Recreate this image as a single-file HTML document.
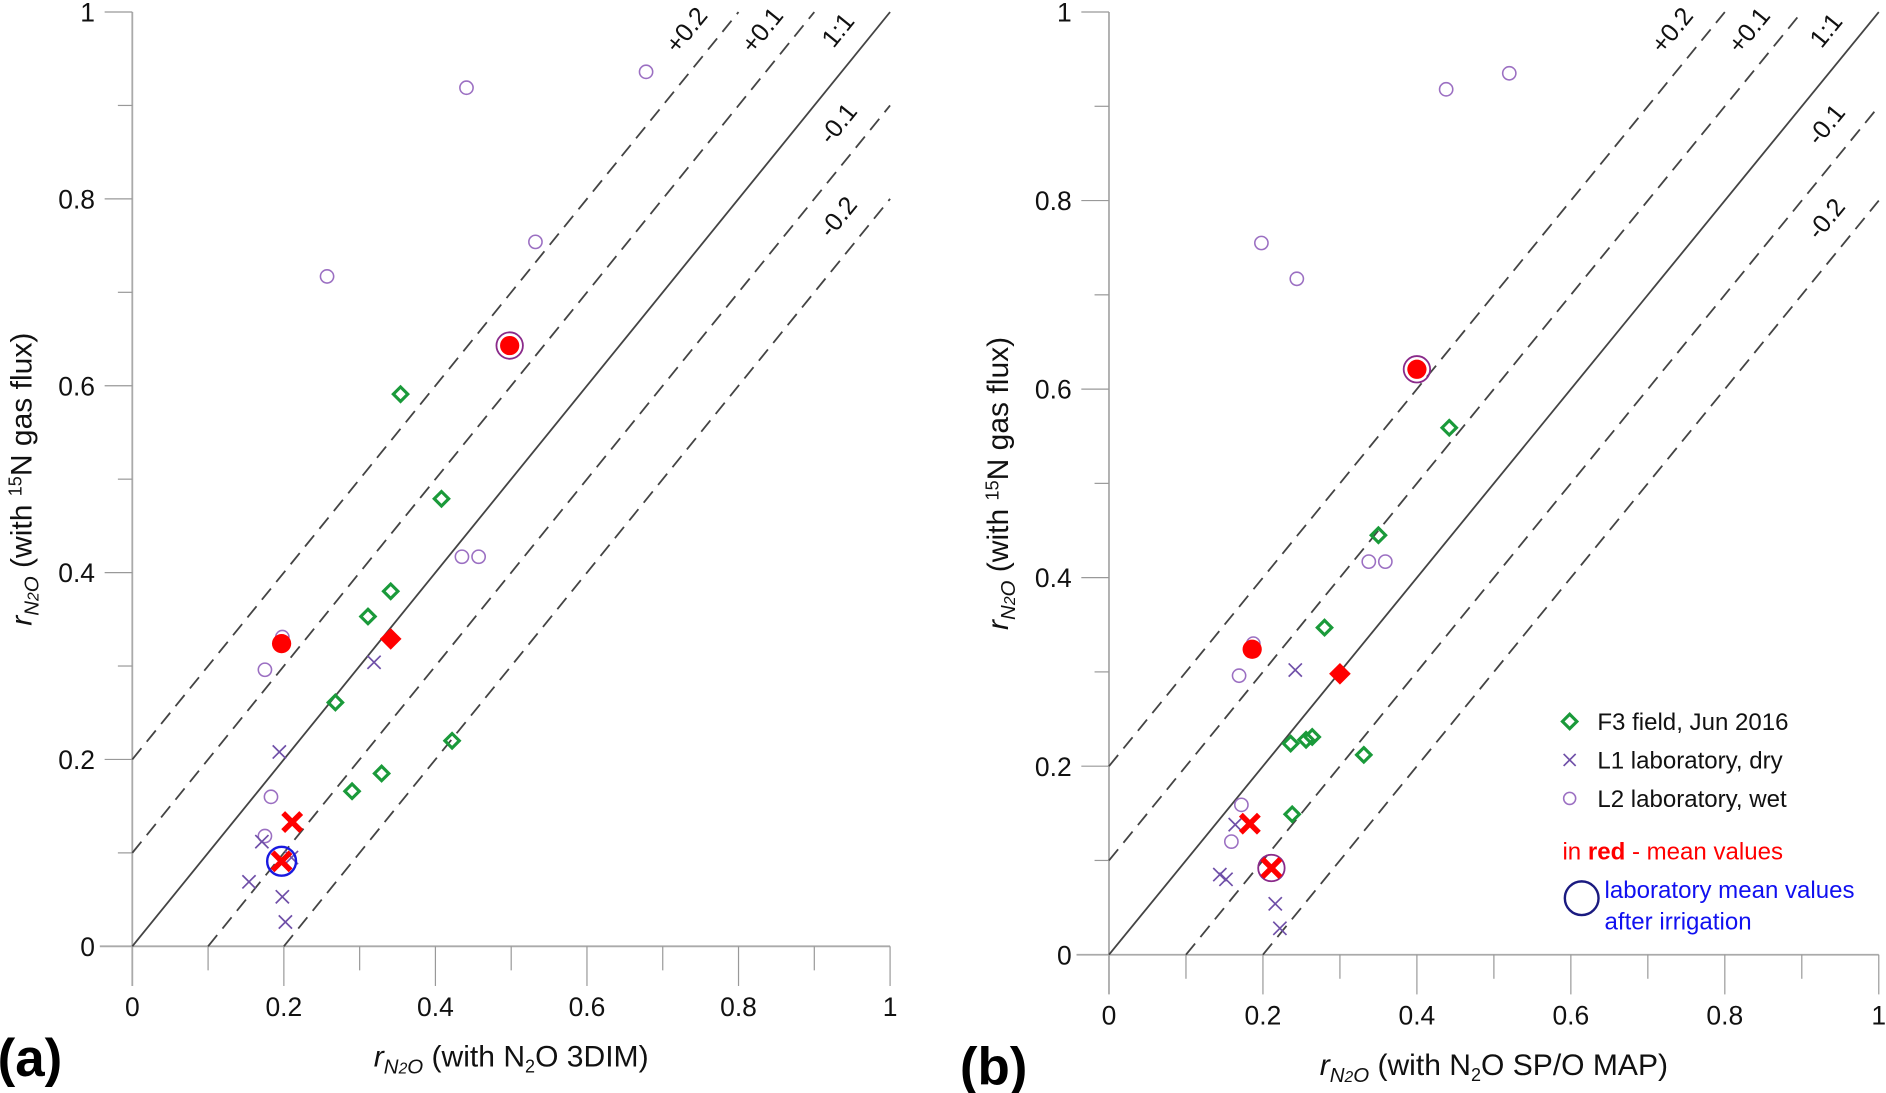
<!DOCTYPE html>
<html><head><meta charset="utf-8"><style>
html,body{margin:0;padding:0;background:#fff;width:1886px;height:1093px;overflow:hidden}
svg{display:block}
text{font-family:"Liberation Sans",sans-serif}
</style></head><body>
<svg id="chart" width="1886" height="1093" viewBox="0 0 1568 909" preserveAspectRatio="none" xmlns="http://www.w3.org/2000/svg">
<g id="layer"></g>
</svg>
<script>
const ticks = [0, 0.2, 0.4, 0.6, 0.8, 1];
const tickLabels = ["0", "0.2", "0.4", "0.6", "0.8", "1"];
const offsets = [0.2, 0.1, 0, -0.1, -0.2];
const offsetLabels = ["+0.2", "+0.1", "1:1", "-0.1", "-0.2"];
// Panel a
const aFieldX = [0.354,0.408,0.341,0.311,0.268,0.422,0.329,0.290];
const aFieldY = [0.591,0.479,0.380,0.353,0.261,0.220,0.185,0.166];
const aDryX = [0.319,0.194,0.171,0.154,0.198,0.202,0.210];
const aDryY = [0.304,0.208,0.112,0.069,0.053,0.026,0.095];
const aWetX = [0.441,0.678,0.532,0.257,0.500,0.435,0.457,0.198,0.175,0.183,0.175];
const aWetY = [0.919,0.936,0.754,0.717,0.644,0.417,0.417,0.331,0.296,0.160,0.118];
const aMeanCircX = [0.197,0.498]; const aMeanCircY = [0.324,0.643];
const aMeanDiaX = [0.341]; const aMeanDiaY = [0.329];
const aMeanXX = [0.211,0.197]; const aMeanXY = [0.133,0.091];
const aIrrX = [0.197]; const aIrrY = [0.091];
const aRingX = [0.498]; const aRingY = [0.643];
// Panel b
const bFieldX = [0.442,0.350,0.280,0.331,0.236,0.256,0.264,0.238];
const bFieldY = [0.559,0.445,0.347,0.212,0.224,0.228,0.231,0.149];
const bDryX = [0.242,0.144,0.152,0.216,0.222,0.164];
const bDryY = [0.302,0.085,0.080,0.054,0.028,0.138];
const bWetX = [0.438,0.520,0.198,0.244,0.3375,0.359,0.1875,0.169,0.172,0.159];
const bWetY = [0.918,0.935,0.755,0.717,0.417,0.417,0.330,0.296,0.159,0.120];
const bMeanCircX = [0.186,0.400]; const bMeanCircY = [0.324,0.621];
const bMeanDiaX = [0.300]; const bMeanDiaY = [0.298];
const bMeanXX = [0.183,0.211]; const bMeanXY = [0.139,0.092];
const bRingX = [0.400,0.211]; const bRingY = [0.621,0.092];

const NS="http://www.w3.org/2000/svg";
const layer=document.getElementById('layer');
function mk(tag,attrs,parent){const e=document.createElementNS(NS,tag);for(const k in attrs)e.setAttribute(k,attrs[k]);(parent||layer).appendChild(e);return e;}

function panel(P){
  const g=mk('g',{});
  
  
  const sx=v=>P.x0+v*(P.x1-P.x0), sy=v=>P.y0-v*(P.y0-P.y1);
  const ax=mk('line',{x1:P.x0,y1:P.y1,x2:P.x0,y2:P.y0+33,stroke:'#aaa','stroke-width':1.5},g);
  
  const ax2=mk('line',{x1:P.x0-27,y1:P.y0,x2:P.x1,y2:P.y0,stroke:'#aaa','stroke-width':1.5},g);
  
  for(let i=1;i<=10;i++){const v=i/10;const major=i%2==0;
    mk('line',{x1:P.x0-(major?23:12),y1:sy(v),x2:P.x0,y2:sy(v),stroke:'#999','stroke-width':1},g);
    mk('line',{x1:sx(v),y1:P.y0,x2:sx(v),y2:P.y0+(major?33:20),stroke:'#999','stroke-width':1},g);}
  ticks.forEach((t,i)=>{
    const ty=mk('text',{x:P.x0-31,y:sy(t)+8,'font-size':22,'text-anchor':'end',fill:'#111'},g);ty.textContent=tickLabels[i];
    
    const tx=mk('text',{x:sx(t),y:P.y0+58,'font-size':22,'text-anchor':'middle',fill:'#111'},g);tx.textContent=tickLabels[i];
    
  });
  const angle=-Math.atan((P.y0-P.y1)/(P.x1-P.x0))*180/Math.PI;
  offsets.forEach((o,i)=>{
    const xa=Math.max(0,-o), xb=Math.min(1,1-o);
    const l=mk('line',{x1:sx(xa),y1:sy(xa+o),x2:sx(xb),y2:sy(xb+o),stroke:'#444','stroke-width':1.5,'stroke-dasharray':o===0?'none':'12,7'},g);
    
    const lx=xb-0.06, ly=lx+o+0.035;
    const t=mk('text',{x:sx(lx),y:sy(ly),'font-size':21,fill:'#111','text-anchor':'middle',transform:`rotate(${angle} ${sx(lx)} ${sy(ly)})`},g);
    t.textContent=offsetLabels[i];
  });
  P.wetX.forEach((x,i)=>{const c=mk('circle',{cx:sx(x),cy:sy(P.wetY[i]),r:5.5,fill:'none',stroke:'#9b6fc2','stroke-width':1.3},g);
    });
  P.dryX.forEach((x,i)=>{const cx=sx(x),cy=sy(P.dryY[i]),s=5.5;
    const p=mk('path',{d:`M${cx-s},${cy-s}L${cx+s},${cy+s}M${cx-s},${cy+s}L${cx+s},${cy-s}`,stroke:'#6f4fa8','stroke-width':1.4},g);
    });
  P.fieldX.forEach((x,i)=>{const cx=sx(x),cy=sy(P.fieldY[i]),s=6;
    const p=mk('path',{d:`M${cx},${cy-s}L${cx+s},${cy}L${cx},${cy+s}L${cx-s},${cy}Z`,fill:'none',stroke:'#1a9a3a','stroke-width':2.6},g);
    });
  P.ringX.forEach((x,i)=>{const c=mk('circle',{cx:sx(x),cy:sy(P.ringY[i]),r:11,fill:'none',stroke:'#8a2a8a','stroke-width':1.5},g);
    });
  P.irrX.forEach((x,i)=>{const c=mk('circle',{cx:sx(x),cy:sy(P.irrY[i]),r:12,fill:'none',stroke:'#1a1ae0','stroke-width':2},g);
    });
  P.mcX.forEach((x,i)=>{const c=mk('circle',{cx:sx(x),cy:sy(P.mcY[i]),r:8,fill:'#f00'},g);
    });
  P.mdX.forEach((x,i)=>{const cx=sx(x),cy=sy(P.mdY[i]),s=9;
    const p=mk('path',{d:`M${cx},${cy-s}L${cx+s},${cy}L${cx},${cy+s}L${cx-s},${cy}Z`,fill:'#f00'},g);
    });
  P.mxX.forEach((x,i)=>{const cx=sx(x),cy=sy(P.mxY[i]),s=7.5;
    const p=mk('path',{d:`M${cx-s},${cy-s}L${cx+s},${cy+s}M${cx-s},${cy+s}L${cx+s},${cy-s}`,stroke:'#f00','stroke-width':4.5},g);
    });
  const xt=mk('text',{x:(P.x0+P.x1)/2,y:P.y0+100,'font-size':25,'text-anchor':'middle',fill:'#111'},g);
  xt.innerHTML=`<tspan font-style="italic">r</tspan><tspan font-style="italic" font-size="17" dy="6">N</tspan><tspan font-size="13" font-style="italic" dy="0">2</tspan><tspan font-style="italic" font-size="17">O</tspan><tspan dy="-6"> (with N</tspan><tspan font-size="15" dy="5">2</tspan><tspan dy="-5">O ${P.method})</tspan>`;
  
  const cy=(P.y0+P.y1)/2, cx=P.x0-84;
  const yt=mk('text',{x:cx,y:cy,'font-size':25,'text-anchor':'middle',fill:'#111',transform:`rotate(-90 ${cx} ${cy})`},g);
  yt.innerHTML=`<tspan font-style="italic">r</tspan><tspan font-style="italic" font-size="17" dy="6">N</tspan><tspan font-size="13" font-style="italic">2</tspan><tspan font-style="italic" font-size="17">O</tspan><tspan dy="-6"> (with </tspan><tspan font-size="15" dy="-8">15</tspan><tspan dy="8">N gas flux)</tspan>`;
  
  const pl=mk('text',{x:P.x0-P.labOff,y:P.y0+108,'font-size':44,'font-weight':'bold',fill:'#000'},g);
  pl.textContent=P.label;
}
panel({name:'panel-a',x0:110,x1:740,y0:787,y1:10,method:'3DIM',label:'(a)',labOff:112,
  fieldX:aFieldX,fieldY:aFieldY,dryX:aDryX,dryY:aDryY,wetX:aWetX,wetY:aWetY,
  mcX:aMeanCircX,mcY:aMeanCircY,mdX:aMeanDiaX,mdY:aMeanDiaY,mxX:aMeanXX,mxY:aMeanXY,
  ringX:aRingX,ringY:aRingY,irrX:aIrrX,irrY:aIrrY});
panel({name:'panel-b',x0:922,x1:1562,y0:794,y1:10,method:'SP/O MAP',label:'(b)',labOff:124,
  fieldX:bFieldX,fieldY:bFieldY,dryX:bDryX,dryY:bDryY,wetX:bWetX,wetY:bWetY,
  mcX:bMeanCircX,mcY:bMeanCircY,mdX:bMeanDiaX,mdY:bMeanDiaY,mxX:bMeanXX,mxY:bMeanXY,
  ringX:bRingX,ringY:bRingY,irrX:[],irrY:[]});
const lg=mk('g',{});


mk('path',{d:'M1305,594L1311,600L1305,606L1299,600Z',fill:'none',stroke:'#1a9a3a','stroke-width':2.6},lg);
mk('path',{d:'M1300,627L1310,637M1300,637L1310,627',stroke:'#6f4fa8','stroke-width':1.4},lg);
mk('circle',{cx:1305,cy:664,r:5,fill:'none',stroke:'#9b6fc2','stroke-width':1.3},lg);
mk('circle',{cx:1315,cy:747,r:14,fill:'none',stroke:'#1a1a80','stroke-width':2},lg);
const L=[['F3 field, Jun 2016',607,'#111',1328],['L1 laboratory, dry',639,'#111',1328],['L2 laboratory, wet',671,'#111',1328]];
L.forEach(d=>{const t=mk('text',{x:d[3],y:d[1],'font-size':20,fill:d[2]},lg);t.textContent=d[0];
  });
const r=mk('text',{x:1299,y:715,'font-size':20,fill:'#f00'},lg);r.innerHTML='in <tspan font-weight="bold">red</tspan> - mean values';

const b1=mk('text',{x:1334,y:747,'font-size':20,fill:'#1010f0'},lg);b1.textContent='laboratory mean values';

const b2=mk('text',{x:1334,y:773,'font-size':20,fill:'#1010f0'},lg);b2.textContent='after irrigation';

</script>
</body></html>
